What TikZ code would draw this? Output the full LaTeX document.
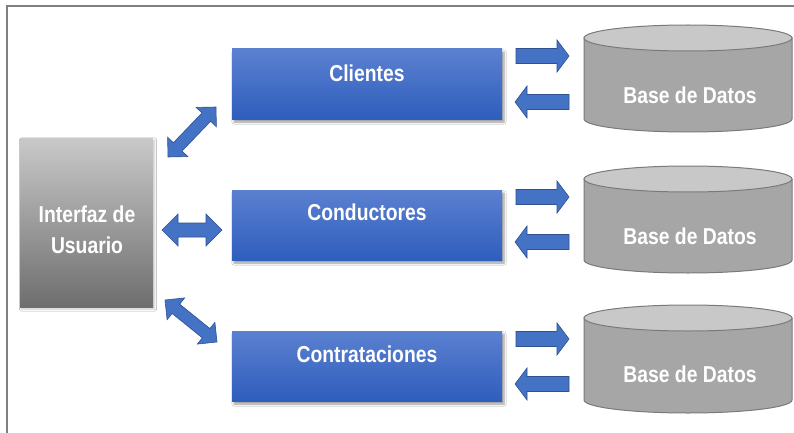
\documentclass[tikz,border=0pt]{standalone}
\usepackage{fontspec}
\setmainfont{Liberation Sans}[FakeStretch=0.84]
\usetikzlibrary{calc,shadows.blur}

\definecolor{arrowfill}{HTML}{4472C4}
\definecolor{arrowedge}{HTML}{2F528F}
\definecolor{boxtop}{HTML}{5B80D0}
\definecolor{boxbot}{HTML}{2F5EBD}
\definecolor{uitop}{HTML}{C9C9C9}
\definecolor{uibot}{HTML}{6E6E6E}
\definecolor{cylbody}{HTML}{A6A6A6}
\definecolor{cyltop}{HTML}{C8C8C8}
\definecolor{cyledge}{HTML}{7A7A7A}
\definecolor{framegray}{HTML}{808080}

\tikzset{
  blockarrow/.style={fill=arrowfill, draw=arrowedge, line width=0.6pt, line join=miter},
  modbox/.style={minimum width=270pt, minimum height=70pt, inner sep=0pt,
    top color=boxtop, bottom color=boxbot,
    blur shadow={shadow xshift=2pt, shadow yshift=-3pt, shadow blur steps=6, shadow opacity=40}},
  uibox/.style={minimum width=133pt, minimum height=169pt, inner sep=0pt,
    top color=uitop, bottom color=uibot,
    blur shadow={shadow xshift=1.5pt, shadow yshift=-2pt, shadow blur steps=5, shadow opacity=20}},
  lbl/.style={text=white, font=\bfseries\fontsize{23}{31}\selectfont, align=center, inner sep=0pt},
  cylshape/.style={fill=cylbody, draw=cyledge, line width=1pt},
  cyltopfill/.style={fill=cyltop, draw=cyledge, line width=1pt},
  frameline/.style={draw=framegray, line width=1.5pt},
}

% single block arrow from #1 (tail) to #2 (tip)
\newcommand{\sarrow}[2]{%
  \coordinate (H) at ($(#2)!12pt!(#1)$);
  \path[blockarrow]
    ($(#1)!7.5pt!90:(#2)$) -- ($(H)!7.5pt!-90:(#1)$) -- ($(H)!16pt!-90:(#1)$)
    -- (#2) -- ($(H)!16pt!90:(#1)$) -- ($(H)!7.5pt!90:(#1)$)
    -- ($(#1)!7.5pt!-90:(#2)$) -- cycle;
}
% double block arrow between #1 and #2; #3 shaft half width, #4 head half width, #5 head length
\newcommand{\darrow}[5]{%
  \coordinate (HA) at ($(#1)!#5!(#2)$);
  \coordinate (HB) at ($(#2)!#5!(#1)$);
  \path[blockarrow]
    (#1) -- ($(HA)!#4!90:(#2)$) -- ($(HA)!#3!90:(#2)$)
    -- ($(HB)!#3!-90:(#1)$) -- ($(HB)!#4!-90:(#1)$) -- (#2)
    -- ($(HB)!#4!90:(#1)$) -- ($(HB)!#3!90:(#1)$)
    -- ($(HA)!#3!-90:(#2)$) -- ($(HA)!#4!-90:(#2)$) -- cycle;
}
% database cylinder: top ellipse centre (#1,#2), body height #3
\newcommand{\dbcyl}[3]{%
  \path[cylshape] (#1-104,#2) -- (#1-104,#2+#3)
    arc[start angle=180, end angle=0, x radius=104, y radius=13]
    -- (#1+104,#2) -- cycle;
  \path[cyltopfill] (#1,#2) ellipse[x radius=104, y radius=13];
}

\begin{document}
\begin{tikzpicture}[x=1pt, y=-1pt]
\useasboundingbox (0,0) rectangle (794,433);
\fill[white] (0,0) rectangle (794,433);

% outer frame (top and left edges)
\draw[frameline] (794,6) -- (7,6) -- (7,433);

% user interface block
\node[uibox] (ui) at (86.5,222.5) {};
\node[lbl] (uitext) at (87,230) {Interfaz de\\Usuario};

% module blocks
\node[modbox] (cli) at (367,84) {};
\node[lbl] (clitext) at (367,73) {Clientes};
\node[modbox] (con) at (367,225) {};
\node[lbl] (context) at (367,212) {Conductores};
\node[modbox] (ctr) at (367,366) {};
\node[lbl] (ctrtext) at (367,354) {Contrataciones};

% databases
\dbcyl{688}{38}{81}
\node[lbl] (db1) at (690,95) {Base de Datos};
\dbcyl{688}{179}{81}
\node[lbl] (db2) at (690,236) {Base de Datos};
\dbcyl{688}{318}{82}
\node[lbl] (db3) at (690,374) {Base de Datos};

% arrow end points
\coordinate (r1a) at (516,56);  \coordinate (r1b) at (569,56);
\coordinate (l1a) at (569,102); \coordinate (l1b) at (515,102);
\coordinate (r2a) at (516,197); \coordinate (r2b) at (569,197);
\coordinate (l2a) at (569,242); \coordinate (l2b) at (515,242);
\coordinate (r3a) at (516,339); \coordinate (r3b) at (569,339);
\coordinate (l3a) at (569,384); \coordinate (l3b) at (515,384);

\coordinate (d1a) at (168,157); \coordinate (d1b) at (216,107);
\coordinate (d2a) at (162,230); \coordinate (d2b) at (222,230);
\coordinate (d3a) at (165,300); \coordinate (d3b) at (217,342);

% module <-> database arrows
\sarrow{r1a}{r1b} \sarrow{l1a}{l1b}
\sarrow{r2a}{r2b} \sarrow{l2a}{l2b}
\sarrow{r3a}{r3b} \sarrow{l3a}{l3b}

% interface <-> module arrows
\darrow{d1a}{d1b}{6pt}{14pt}{14pt}
\darrow{d2a}{d2b}{7pt}{16pt}{16pt}
\darrow{d3a}{d3b}{6pt}{14pt}{14pt}
\end{tikzpicture}
\end{document}
